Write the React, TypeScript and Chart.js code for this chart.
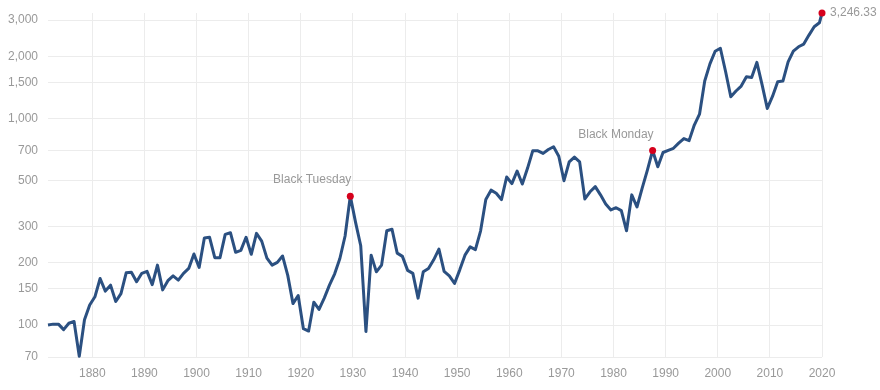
import React, { useEffect, useRef } from "react";
import { Chart, registerables } from "chart.js";

Chart.register(...registerables);

// Annual average S&P 500 (inflation adjusted), one value per year, plotted mid-year
const years = [
  1871, 1872, 1873, 1874, 1875, 1876, 1877, 1878, 1879, 1880,
  1881, 1882, 1883, 1884, 1885, 1886, 1887, 1888, 1889, 1890,
  1891, 1892, 1893, 1894, 1895, 1896, 1897, 1898, 1899, 1900,
  1901, 1902, 1903, 1904, 1905, 1906, 1907, 1908, 1909, 1910,
  1911, 1912, 1913, 1914, 1915, 1916, 1917, 1918, 1919, 1920,
  1921, 1922, 1923, 1924, 1925, 1926, 1927, 1928, 1929, 1930,
  1931, 1932, 1933, 1934, 1935, 1936, 1937, 1938, 1939, 1940,
  1941, 1942, 1943, 1944, 1945, 1946, 1947, 1948, 1949, 1950,
  1951, 1952, 1953, 1954, 1955, 1956, 1957, 1958, 1959, 1960,
  1961, 1962, 1963, 1964, 1965, 1966, 1967, 1968, 1969, 1970,
  1971, 1972, 1973, 1974, 1975, 1976, 1977, 1978, 1979, 1980,
  1981, 1982, 1983, 1984, 1985, 1986, 1987, 1988, 1989, 1990,
  1991, 1992, 1993, 1994, 1995, 1996, 1997, 1998, 1999, 2000,
  2001, 2002, 2003, 2004, 2005, 2006, 2007, 2008, 2009, 2010,
  2011, 2012, 2013, 2014, 2015, 2016, 2017, 2018, 2019,
];

const values = [
  100, 101, 101, 95, 102, 104, 70.5, 106, 125, 137,
  168, 146, 156, 130, 142, 179, 180, 162, 178, 182,
  157, 195, 148, 164, 173, 165, 178, 188, 221, 190,
  264, 266, 212, 212, 275, 280, 225, 230, 266, 220,
  278, 255, 211, 195, 201, 216, 174, 127, 139, 96,
  93.5, 129, 119, 135, 156, 177, 210, 270, 421, 315,
  242, 93, 218, 181, 195, 286, 291, 223, 215, 184,
  178, 135, 181, 188, 207, 233, 182, 173, 159, 185,
  218, 239, 232, 286, 406, 450, 435, 405, 521, 484,
  557, 482, 574, 698, 698, 678, 708, 730, 657, 500,
  617, 651, 617, 408, 442, 468, 427, 386, 361, 370,
  358, 286, 427, 373, 460, 563, 700, 584, 685, 702,
  718, 760, 800, 782, 930, 1050, 1520, 1840, 2120, 2190,
  1690, 1275, 1360, 1437, 1594, 1580, 1871, 1460, 1120, 1280,
  1508, 1520, 1884, 2123, 2227, 2295, 2537, 2784, 2911,
];

// Latest reading
const lastDate = 2020;
const lastValue = 3246.33;

const eventLabels = ["Black Tuesday", "Black Monday"];
const eventYears = [1929, 1987];

const xTickYears = [1880, 1890, 1900, 1910, 1920, 1930, 1940, 1950, 1960, 1970, 1980, 1990, 2000, 2010, 2020];
const yTickValues = [70, 100, 150, 200, 300, 500, 700, 1000, 1500, 2000, 3000];

const MID_YEAR = 0.5;
const LINE_COLOR = "#2b5081";
const DOT_COLOR = "#d6001c";
const TEXT_COLOR = "#999999";
const GRID_COLOR = "#ececec";
const FONT_FAMILY = "'Liberation Sans', Arial, Helvetica, sans-serif";

export default function App() {
  const canvasRef = useRef<HTMLCanvasElement | null>(null);

  useEffect(() => {
    const canvas = canvasRef.current;
    if (!canvas) return;

    const lineData = years.map((y, i) => ({ x: y + MID_YEAR, y: values[i] }));
    lineData.push({ x: lastDate, y: lastValue });

    const eventPoints = eventYears.map((ey) => {
      const idx = years.indexOf(ey);
      return { x: ey + MID_YEAR, y: values[idx] };
    });
    const dotData = [...eventPoints, { x: lastDate, y: lastValue }];

    const annotationPlugin = {
      id: "annotations",
      afterDatasetsDraw(chart: any) {
        const { ctx, scales } = chart;
        const xs = scales.x;
        const ys = scales.y;
        ctx.save();
        ctx.font = `12px ${FONT_FAMILY}`;
        ctx.fillStyle = TEXT_COLOR;
        ctx.textBaseline = "middle";
        eventPoints.forEach((p, i) => {
          const px = xs.getPixelForValue(p.x);
          const py = ys.getPixelForValue(p.y);
          ctx.textAlign = "right";
          ctx.fillText(eventLabels[i], px + 1, py - 16);
        });
        const lx = xs.getPixelForValue(lastDate);
        const ly = ys.getPixelForValue(lastValue);
        ctx.textAlign = "left";
        ctx.fillText(
          lastValue.toLocaleString("en-US", { minimumFractionDigits: 2, maximumFractionDigits: 2 }),
          lx + 8,
          ly
        );
        ctx.restore();
      },
    };

    const chart = new Chart(canvas, {
      type: "line",
      data: {
        datasets: [
          {
            type: "scatter",
            data: dotData,
            backgroundColor: DOT_COLOR,
            borderColor: DOT_COLOR,
            pointRadius: 3.5,
            pointBorderWidth: 0,
            clip: false,
            order: 0,
          } as any,
          {
            data: lineData,
            borderColor: LINE_COLOR,
            borderWidth: 3,
            pointRadius: 0,
            tension: 0,
            fill: false,
            clip: false,
            borderJoinStyle: "round",
            order: 1,
          } as any,
        ],
      },
      options: {
        animation: false,
        responsive: false,
        maintainAspectRatio: false,
        layout: { autoPadding: false, padding: { top: 13, right: 58, left: 0, bottom: 0 } },
        plugins: {
          legend: { display: false },
          tooltip: { enabled: false },
        },
        scales: {
          x: {
            type: "linear",
            min: years[0] + MID_YEAR,
            max: lastDate,
            afterBuildTicks: (s: any) => {
              s.ticks = xTickYears.map((v) => ({ value: v }));
            },
            afterFit: (s: any) => {
              s.height = 33;
              s.paddingLeft = 0;
              s.paddingRight = 0;
            },
            ticks: {
              callback: (v: any) => String(v),
              color: TEXT_COLOR,
              font: { size: 12, family: FONT_FAMILY },
              padding: 9,
              maxRotation: 0,
              autoSkip: false,
            },
            grid: { color: GRID_COLOR, drawTicks: false, lineWidth: 1 },
            border: { display: false },
          },
          y: {
            type: "logarithmic",
            min: 70,
            max: lastValue,
            afterBuildTicks: (s: any) => {
              s.ticks = yTickValues.map((v) => ({ value: v }));
            },
            afterFit: (s: any) => {
              s.width = 48;
              s.paddingTop = 0;
              s.paddingBottom = 0;
            },
            ticks: {
              callback: (v: any) => Number(v).toLocaleString("en-US"),
              color: TEXT_COLOR,
              font: { size: 12, family: FONT_FAMILY },
              padding: 10,
              autoSkip: false,
            },
            grid: { color: GRID_COLOR, drawTicks: false, lineWidth: 1 },
            border: { display: false },
          },
        },
      } as any,
      plugins: [annotationPlugin],
    });

    return () => {
      chart.destroy();
    };
  }, []);

  return (
    <div style={{ position: "fixed", left: 0, top: 0, width: 880, height: 390, background: "#fff" }}>
      <canvas ref={canvasRef} width={880} height={390} style={{ display: "block" }} />
    </div>
  );
}
